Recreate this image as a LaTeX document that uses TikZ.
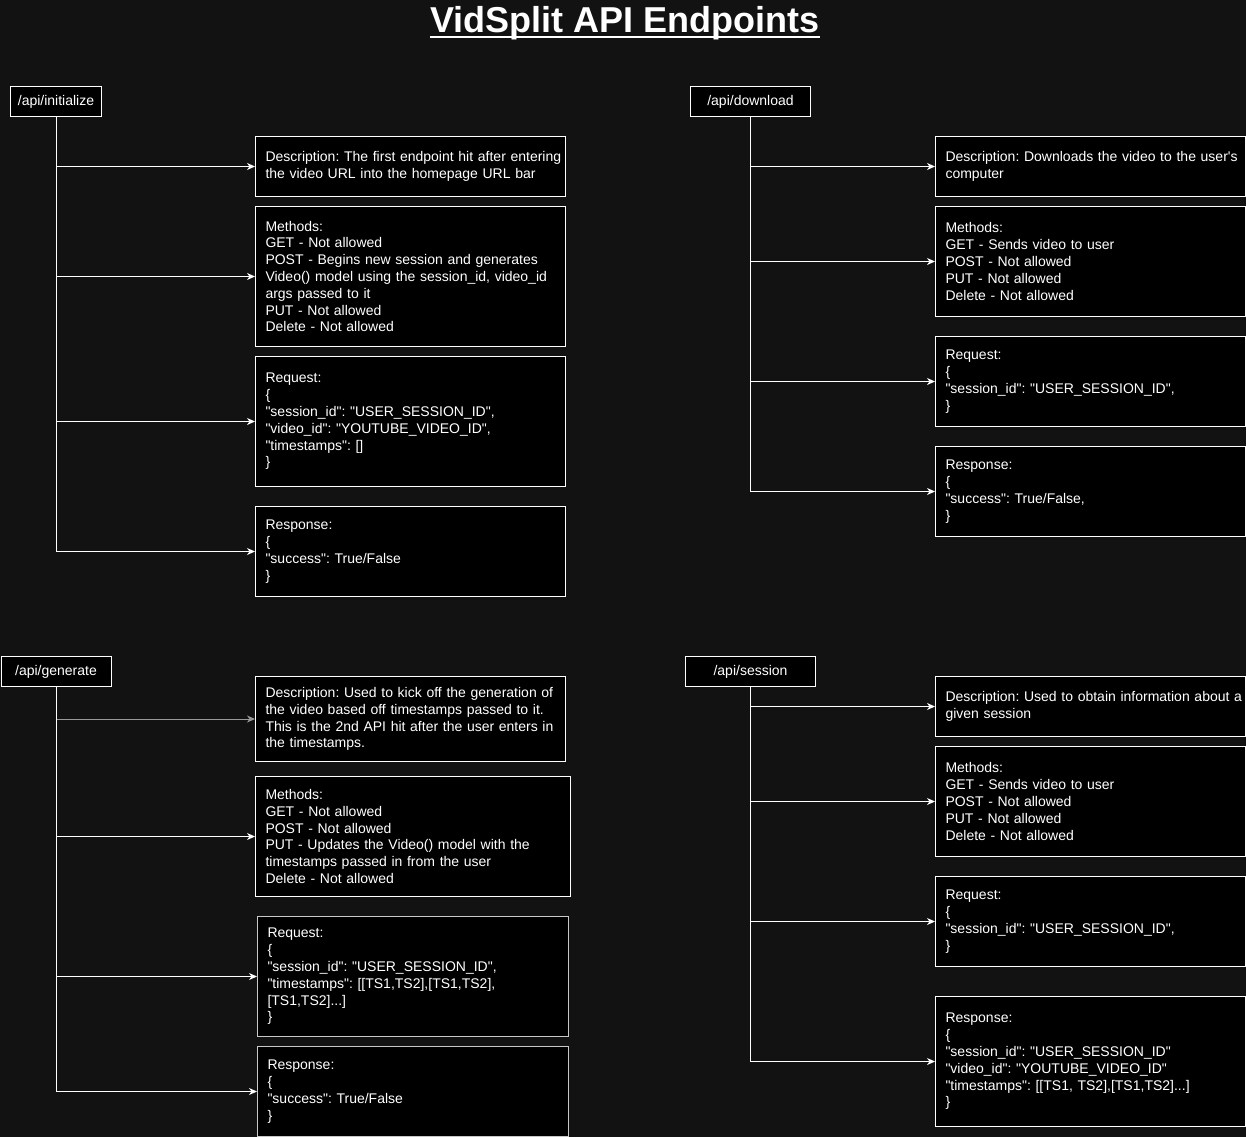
\documentclass[tikz,border=0pt]{standalone}
\usepackage{fontspec}
\setmainfont{Liberation Sans}[Ligatures=TeXOff]
\usetikzlibrary{arrows.meta}
\definecolor{canvas}{HTML}{121212}
\definecolor{dimline}{HTML}{999999}
\definecolor{softedge}{HTML}{C8C8C8}
\frenchspacing

\begin{document}
\begin{tikzpicture}[x=1pt,y=-1pt,every node/.style={text=white, font=\fontsize{14}{16.8}\selectfont},endpoint/.style={draw=white, fill=black, line width=1pt, anchor=north west, inner sep=0pt, minimum height=30pt, minimum width=#1},panel/.style={draw=white, fill=black, line width=1pt, anchor=north west, align=left, inner sep=0pt, text width=310pt, minimum height=#1, execute at begin node={\leftskip=10pt\relax}},feed/.style={draw=white, line width=1pt, -{Stealth[length=8pt,width=7pt,inset=2.5pt]}}]
\fill[canvas] (0,0) rectangle (1246,1137);
\useasboundingbox (0,0) rectangle (1246,1137);

% title
\node[inner sep=0pt, anchor=base, font=\fontsize{36}{40}\selectfont\bfseries] (title) at (625,33) {VidSplit API Endpoints};
\draw[white, line width=2pt] ([yshift=-4.5pt]title.base west) -- ([yshift=-4.5pt]title.base east);

% /api/initialize
\node[endpoint=91pt] (initLbl) at (10,86) {/api/initialize};
\node[panel=60pt] (initDesc) at (255,136) {Description: The first endpoint hit after entering\\the video URL into the homepage URL bar};
\node[panel=140pt] (initMeth) at (255,206) {Methods:\\GET - Not allowed\\POST - Begins new session and generates\\Video() model using the session\_id, video\_id\\args passed to it\\PUT - Not allowed\\Delete - Not allowed};
\node[panel=130pt] (initReq) at (255,356) {Request:\\\{\\"session\_id": "USER\_SESSION\_ID",\\"video\_id": "YOUTUBE\_VIDEO\_ID",\\"timestamps": []\\\}};
\node[panel=90pt] (initResp) at (255,506) {Response:\\\{\\"success": True/False\\\}};

% /api/download
\node[endpoint=120pt] (dlLbl) at (690,86) {/api/download};
\node[panel=60pt] (dlDesc) at (935,136) {Description: Downloads the video to the user's\\computer};
\node[panel=110pt] (dlMeth) at (935,206) {Methods:\\GET - Sends video to user\\POST - Not allowed\\PUT - Not allowed\\Delete - Not allowed};
\node[panel=90pt] (dlReq) at (935,336) {Request:\\\{\\"session\_id": "USER\_SESSION\_ID",\\\}};
\node[panel=90pt] (dlResp) at (935,446) {Response:\\\{\\"success": True/False,\\\}};

% /api/generate
\node[endpoint=110pt] (genLbl) at (0.5,656) {/api/generate};
\node[panel=85pt] (genDesc) at (255,676) {Description: Used to kick off the generation of\\the video based off timestamps passed to it.\\This is the 2nd API hit after the user enters in\\the timestamps.};
\node[panel=120pt, text width=315pt] (genMeth) at (255,776) {Methods:\\GET - Not allowed\\POST - Not allowed\\PUT - Updates the Video() model with the\\timestamps passed in from the user\\Delete - Not allowed};
\node[panel=120pt, text width=311pt, draw=softedge] (genReq) at (257,916) {Request:\\\{\\"session\_id": "USER\_SESSION\_ID",\\"timestamps": [[TS1,TS2],[TS1,TS2],\\{}[TS1,TS2]...]\\\}};
\node[panel=90pt, text width=311pt, draw=softedge] (genResp) at (257,1046) {Response:\\\{\\"success": True/False\\\}};

% /api/session
\node[endpoint=130pt] (sesLbl) at (685,656) {/api/session};
\node[panel=60pt] (sesDesc) at (935,676) {Description: Used to obtain information about a\\given session};
\node[panel=110pt] (sesMeth) at (935,746) {Methods:\\GET - Sends video to user\\POST - Not allowed\\PUT - Not allowed\\Delete - Not allowed};
\node[panel=90pt] (sesReq) at (935,876) {Request:\\\{\\"session\_id": "USER\_SESSION\_ID",\\\}};
\node[panel=130pt] (sesResp) at (935,996) {Response:\\\{\\"session\_id": "USER\_SESSION\_ID"\\"video\_id": "YOUTUBE\_VIDEO\_ID"\\"timestamps": [[TS1, TS2],[TS1,TS2]...]\\\}};

% connectors
\draw[feed, dimline] (genLbl.south) |- (genDesc.west);
\foreach \b in {initDesc,initMeth,initReq,initResp}
  \draw[feed] (initLbl.south) |- (\b.west);
\foreach \b in {dlDesc,dlMeth,dlReq,dlResp}
  \draw[feed] (dlLbl.south) |- (\b.west);
\foreach \b in {genMeth,genReq,genResp}
  \draw[feed] (genLbl.south) |- (\b.west);
\foreach \b in {sesDesc,sesMeth,sesReq,sesResp}
  \draw[feed] (sesLbl.south) |- (\b.west);
\end{tikzpicture}
\end{document}
